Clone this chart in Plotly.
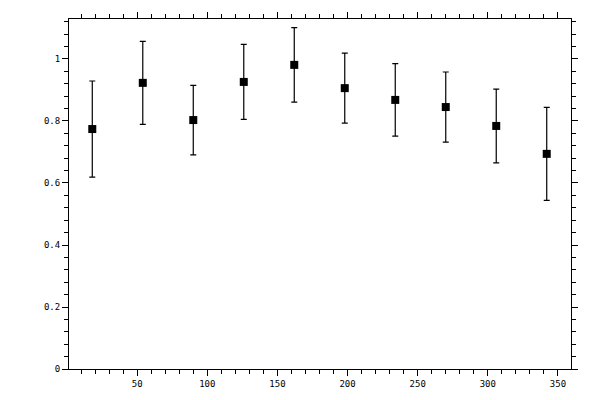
import plotly.graph_objects as go

# bin centres and measured ratio with symmetric errors
x_centres = [18, 54, 90, 126, 162, 198, 234, 270, 306, 342]
y_values = [0.774, 0.923, 0.803, 0.926, 0.981, 0.906, 0.868, 0.845, 0.784, 0.694]
y_errors = [0.155, 0.134, 0.112, 0.121, 0.120, 0.113, 0.117, 0.113, 0.119, 0.150]

fig = go.Figure()

fig.add_trace(go.Scatter(
    x=x_centres,
    y=y_values,
    mode='markers',
    marker=dict(symbol='square', size=8, color='black'),
    error_y=dict(type='data', array=y_errors, visible=True,
                 color='black', thickness=1.2, width=3),
    showlegend=False
))

axis_font = dict(family='DejaVu Sans Mono', size=9, color='black')

# the page body adds an 8px offset, so margins are shifted to compensate
fig.update_layout(
    width=600, height=400,
    margin=dict(l=61, r=37, t=11, b=39),
    paper_bgcolor='white',
    plot_bgcolor='white',
    xaxis=dict(
        range=[1.4, 359.3], dtick=50, tick0=0, automargin=False,
        showgrid=False, zeroline=False,
        showline=True, linecolor='black', linewidth=1, mirror='ticks',
        ticks='outside', ticklen=6, tickwidth=1, tickcolor='black',
        minor=dict(dtick=10, ticks='outside', ticklen=4, tickcolor='black', showgrid=False),
        tickfont=axis_font,
    ),
    yaxis=dict(
        range=[0, 1.129], dtick=0.2, tick0=0, automargin=False,
        showgrid=False, zeroline=False,
        showline=True, linecolor='black', linewidth=1, mirror='ticks',
        ticks='outside', ticklen=6, tickwidth=1, tickcolor='black',
        minor=dict(dtick=0.04, ticks='outside', ticklen=4, tickcolor='black', showgrid=False),
        tickfont=axis_font,
    ),
)

fig.write_html("out.html")
